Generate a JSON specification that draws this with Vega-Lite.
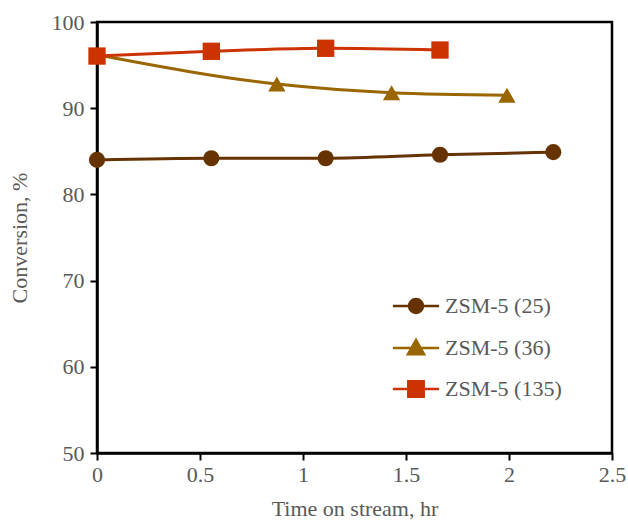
{
  "$schema": "https://vega.github.io/schema/vega-lite/v6.json",
  "width": 515,
  "height": 431,
  "autosize": "none",
  "padding": {"left": 97, "top": 22, "right": 16, "bottom": 72},
  "background": "white",
  "config": {
    "font": "Liberation Serif",
    "view": {"stroke": "black", "strokeWidth": 2.5},
    "axis": {"labelFont": "Liberation Serif", "titleFont": "Liberation Serif"},
    "legend": {"labelFont": "Liberation Serif"}
  },
  "data": {
    "values": [
      {"series": "ZSM-5 (25)", "time": 0, "conv": 84.0},
      {"series": "ZSM-5 (25)", "time": 0.555, "conv": 84.2},
      {"series": "ZSM-5 (25)", "time": 1.11, "conv": 84.2},
      {"series": "ZSM-5 (25)", "time": 1.665, "conv": 84.6},
      {"series": "ZSM-5 (25)", "time": 2.215, "conv": 84.9},
      {"series": "ZSM-5 (36)", "time": 0, "conv": 96.2},
      {"series": "ZSM-5 (36)", "time": 0.873, "conv": 92.8},
      {"series": "ZSM-5 (36)", "time": 1.43, "conv": 91.8},
      {"series": "ZSM-5 (36)", "time": 1.99, "conv": 91.5},
      {"series": "ZSM-5 (135)", "time": 0, "conv": 96.05},
      {"series": "ZSM-5 (135)", "time": 0.555, "conv": 96.6},
      {"series": "ZSM-5 (135)", "time": 1.11, "conv": 96.95},
      {"series": "ZSM-5 (135)", "time": 1.665, "conv": 96.75}
    ]
  },
  "encoding": {
    "x": {
      "field": "time", "type": "quantitative",
      "scale": {"domain": [0, 2.5], "nice": false, "zero": false},
      "axis": {
        "values": [0, 0.5, 1, 1.5, 2, 2.5],
        "title": "Time on stream, hr",
        "titleFont": "Liberation Serif", "titleFontSize": 22, "titleFontWeight": "normal", "titleColor": "#595959",
        "titlePadding": 13,
        "labelFont": "Liberation Serif", "labelFontSize": 22, "labelColor": "#595959",
        "labelPadding": 4, "labelFlush": false,
        "domainColor": "black", "domainWidth": 2.5,
        "ticks": true, "tickColor": "black", "tickWidth": 2, "tickSize": 7,
        "encode": {"ticks": {"update": {"y2": {"value": -7}}}},
        "grid": false,
        "format": "~g"
      }
    },
    "y": {
      "field": "conv", "type": "quantitative",
      "scale": {"domain": [50, 100], "nice": false, "zero": false},
      "axis": {
        "values": [50, 60, 70, 80, 90, 100],
        "title": "Conversion, %",
        "titleFont": "Liberation Serif", "titleFontSize": 22, "titleFontWeight": "normal", "titleColor": "#595959",
        "titlePadding": 20,
        "labelFont": "Liberation Serif", "labelFontSize": 22, "labelColor": "#595959",
        "labelPadding": 6, "labelFlush": false,
        "domainColor": "black", "domainWidth": 2.5,
        "ticks": true, "tickColor": "black", "tickWidth": 2, "tickSize": 7,
        "encode": {"ticks": {"update": {"x2": {"value": 7}}}},
        "grid": false
      }
    },
    "color": {
      "field": "series", "type": "nominal",
      "scale": {"domain": ["ZSM-5 (25)", "ZSM-5 (36)", "ZSM-5 (135)"], "range": ["#663300", "#996600", "#CC3300"]},
      "legend": {
        "title": null,
        "orient": "none",
        "legendX": 308,
        "legendY": 273,
        "padding": 0,
        "labelFont": "Liberation Serif",
        "labelFontSize": 22,
        "labelColor": "#595959",
        "labelOffset": 18,
        "rowPadding": 16,
        "symbolSize": 196,
        "symbolStrokeWidth": 2.5,
        "symbolOpacity": 1,
        "encode": {
          "symbols": {
            "update": {
              "shape": {"signal": "datum.value === 'ZSM-5 (25)' ? 'M-3.3,0L3.3,0M1,0A1,1,0,1,1,-1,0A1,1,0,1,1,1,0Z' : (datum.value === 'ZSM-5 (36)' ? 'M-3.3,0L3.3,0M0,-1.15L1.15,0.9L-1.15,0.9Z' : 'M-3.3,0L3.3,0M-1.1,-1.1L1.1,-1.1L1.1,1.1L-1.1,1.1Z')"},
              "fill": {"signal": "scale('color', datum.value)"},
              "stroke": {"signal": "scale('color', datum.value)"},
              "fillOpacity": {"value": 1},
              "strokeWidth": {"value": 2.5}
            }
          }
        }
      }
    }
  },
  "layer": [
    {
      "mark": {"type": "line", "strokeWidth": 3, "interpolate": "monotone"},
      "encoding": {"detail": {"field": "series"}}
    },
    {
      "transform": [{"filter": "datum.series === 'ZSM-5 (25)'"}],
      "mark": {"type": "point", "shape": "circle", "filled": true, "opacity": 1, "size": 260}
    },
    {
      "transform": [{"filter": "datum.series === 'ZSM-5 (36)'"}],
      "mark": {"type": "point", "shape": "triangle-up", "filled": true, "opacity": 1, "size": 300}
    },
    {
      "transform": [{"filter": "datum.series === 'ZSM-5 (135)'"}],
      "mark": {"type": "point", "shape": "square", "filled": true, "opacity": 1, "size": 300}
    }
  ]
}
